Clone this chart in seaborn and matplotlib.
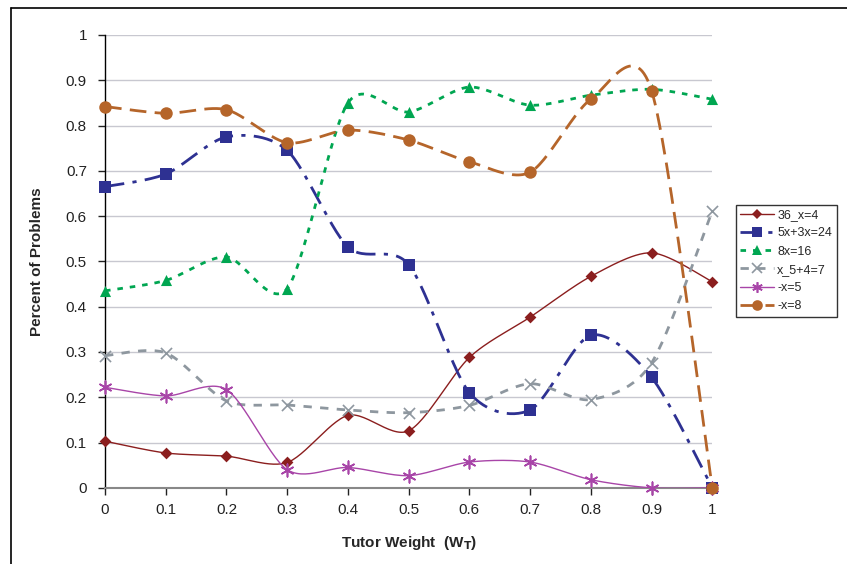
import numpy as np
import pandas as pd
import matplotlib
matplotlib.use("Agg")
import matplotlib.pyplot as plt
from matplotlib.lines import Line2D
import seaborn as sns

# dados
pesos = [0.0, 0.1, 0.2, 0.3, 0.4, 0.5, 0.6, 0.7, 0.8, 0.9, 1.0]
s_36 = [0.103, 0.077, 0.070, 0.056, 0.160, 0.126, 0.288, 0.377, 0.467, 0.519, 0.455]
s_5x = [0.665, 0.693, 0.775, 0.745, 0.532, 0.493, 0.210, 0.172, 0.337, 0.244, 0.000]
s_8x = [0.435, 0.458, 0.510, 0.440, 0.850, 0.830, 0.885, 0.845, 0.867, 0.880, 0.858]
s_x5 = [0.292, 0.298, 0.192, 0.183, 0.172, 0.166, 0.182, 0.230, 0.195, 0.276, 0.612]
s_m5 = [0.222, 0.203, 0.217, 0.040, 0.045, 0.027, 0.057, 0.057, 0.018, 0.000, 0.000]
s_m8 = [0.842, 0.827, 0.835, 0.762, 0.790, 0.768, 0.720, 0.697, 0.858, 0.877, 0.000]

nomes = ["36_x=4", "5x+3x=24", "8x=16", "x_5+4=7", "-x=5", "-x=8"]
series = [s_36, s_5x, s_8x, s_x5, s_m5, s_m8]
cores = ["#8B1E1E", "#2E3192", "#00A651", "#8E979F", "#A845A8", "#B5652A"]
marcadores = ["D", "s", "^", "x", (6, 2, 0), "o"]
tracos = ["-", (0, (7, 3, 1.5, 3)), (0, (2, 2.5)), (0, (3, 3)), "-", (0, (6, 3))]
larguras = [1.0, 2.0, 2.0, 2.0, 1.0, 2.0]
tam_marc = [6, 8, 8, 8, 9, 9]


def suavizar(x, y, n=30, k=0.85):
    # curva suave estilo Excel (Catmull-Rom via Bezier)
    p = np.column_stack([x, y])
    ext = np.vstack([p[0], p, p[-1]])
    xs, ys = [], []
    t = np.linspace(0, 1, n)
    for i in range(len(p) - 1):
        p0, p1, p2, p3 = ext[i], ext[i + 1], ext[i + 2], ext[i + 3]
        c1 = p1 + k * (p2 - p0) / 6
        c2 = p2 - k * (p3 - p1) / 6
        b = ((1 - t) ** 3)[:, None] * p1 + (3 * (1 - t) ** 2 * t)[:, None] * c1 \
            + (3 * (1 - t) * t ** 2)[:, None] * c2 + (t ** 3)[:, None] * p2
        xs.extend(b[:, 0])
        ys.extend(b[:, 1])
    return np.array(xs), np.array(ys)


sns.set_theme(style="white")
plt.rcParams['font.family'] = ['Liberation Sans', 'DejaVu Sans']

fig = plt.figure(figsize=(8.47, 5.64), dpi=100)
ax = fig.add_axes([0.124, 0.135, 0.717, 0.803])

for nome, ys, cor, mk, ls, lw, ms in zip(nomes, series, cores, marcadores, tracos, larguras, tam_marc):
    cx, cy = suavizar(pesos, ys)
    ax.plot(cx, cy, color=cor, linestyle=ls, linewidth=lw, zorder=3)
    df = pd.DataFrame({"peso": pesos, "valor": ys})
    linha = mk in ("x",) or isinstance(mk, tuple)
    sns.scatterplot(data=df, x="peso", y="valor", ax=ax, color=cor, marker=mk,
                    s=ms ** 2, linewidth=1.2 if linha else 0,
                    edgecolor=cor, zorder=4, legend=False, clip_on=False)

ax.set_xlim(0, 1)
ax.set_ylim(0, 1)
ax.set_xticks(pesos)
ax.set_xticklabels(["0", "0.1", "0.2", "0.3", "0.4", "0.5", "0.6", "0.7", "0.8", "0.9", "1"])
ax.set_yticks(np.arange(0, 1.01, 0.1))
ax.set_yticklabels(["0", "0.1", "0.2", "0.3", "0.4", "0.5", "0.6", "0.7", "0.8", "0.9", "1"])
ax.yaxis.grid(True, color="#C8C8D0", linewidth=1.0)
ax.set_axisbelow(True)
for lado in ["top", "right"]:
    ax.spines[lado].set_visible(False)
ax.spines["left"].set_color("black")
ax.spines["left"].set_linewidth(1.0)
ax.spines["bottom"].set_color("#888888")
ax.spines["bottom"].set_linewidth(1.5)
ax.tick_params(axis="both", direction="out", length=5, width=1, labelsize=11,
               colors="#222222", left=True, bottom=True, pad=6)
ax.tick_params(axis="y", pad=8)

ax.set_xlabel("Tutor Weight  (W$_\\mathbf{T}$)", fontsize=11, fontweight="bold", labelpad=12)
ax.set_ylabel("Percent of Problems", fontsize=11, fontweight="bold", labelpad=16)

alcas = [Line2D([0], [0], color=c, linestyle=l, linewidth=w, marker=m, markersize=s * 0.85,
                markeredgecolor=c, markerfacecolor=c,
                markeredgewidth=1.2 if (m == "x" or isinstance(m, tuple)) else 0)
         for c, l, w, m, s in zip(cores, tracos, larguras, marcadores, tam_marc)]
leg = fig.legend(alcas, nomes, loc="upper left", bbox_to_anchor=(0.869, 0.637),
                 frameon=True, fancybox=False, fontsize=9, handlelength=2.7,
                 borderpad=0.35, labelspacing=0.5, handletextpad=0.25,
                 borderaxespad=0)
leg.get_frame().set_edgecolor("black")
leg.get_frame().set_linewidth(1.0)

# moldura da figura (topo e esquerda)
fig.add_artist(Line2D([0.013, 0.013], [0.0, 0.986], color="black", linewidth=1.2))
fig.add_artist(Line2D([0.013, 1.0], [0.986, 0.986], color="black", linewidth=1.2))

fig.savefig("out.png", dpi=100)
